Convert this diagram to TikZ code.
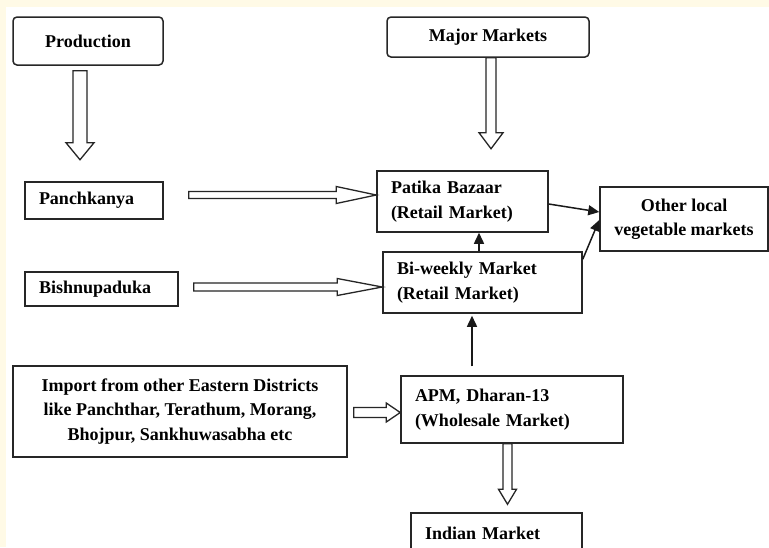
\documentclass[tikz,border=0pt]{standalone}
\usepackage{fontspec}
\setmainfont{Liberation Serif}
\usetikzlibrary{arrows.meta,calc}

\definecolor{creamback}{RGB}{255,250,230}

% hollow block arrows: start, end, shaft half width, head half width, head length
\newcommand{\blockdown}[5]{%
  \draw[hollowarrow] let \p1=#1, \p2=#2 in
    (\x1-#3,\y1) -- (\x1-#3,\y2+#5) -- (\x1-#4,\y2+#5) -- (\x1,\y2) -- (\x1+#4,\y2+#5) -- (\x1+#3,\y2+#5) -- (\x1+#3,\y1) -- cycle;}
\newcommand{\blockright}[5]{%
  \draw[hollowarrow] let \p1=#1, \p2=#2 in
    (\x1,\y1+#3) -- (\x2-#5,\y1+#3) -- (\x2-#5,\y1+#4) -- (\x2,\y1) -- (\x2-#5,\y1-#4) -- (\x2-#5,\y1-#3) -- (\x1,\y1-#3) -- cycle;}

\tikzset{
  box/.style={draw=black!85, line width=1.5pt, fill=white, font=\bfseries\fontsize{18}{24.5}\selectfont, inner ysep=2pt},
  rbox/.style={box, rounded corners=4pt, align=center},
  lbox/.style={box, align=left, inner xsep=14pt},
  cbox/.style={box, align=center},
  hollowarrow/.style={draw=black!85, line width=1.3pt, fill=white},
  thinarrow/.style={draw=black!90, line width=1.5pt, -{Triangle[length=11pt,width=10pt]}}
}

\begin{document}
\begin{tikzpicture}[x=1pt,y=1pt]
\useasboundingbox (0,0) rectangle (769,-547);
\clip (0,0) rectangle (769,-547);
\fill[creamback] (0,0) rectangle (769,-547);
\fill[white] (6,-7) rectangle (769,-547);

% sources
\node[rbox, minimum width=150pt, minimum height=48pt] (prod) at (88,-41) {Production};
\node[rbox, minimum width=202pt, minimum height=40pt] (major) at (488,-37) {Major Markets};
\node[lbox, text width=110pt, minimum height=37pt] (pank) at (94,-200.5) {Panchkanya};
\node[lbox, text width=125pt, minimum height=34pt] (bishnu) at (101.5,-289) {Bishnupaduka};
\node[cbox, minimum width=334pt, minimum height=91pt] (import) at (180,-411.5)
  {Import from other Eastern Districts\\like Panchthar, Terathum, Morang,\\Bhojpur, Sankhuwasabha etc};

% markets
\node[lbox, text width=143pt, minimum height=61pt] (patika) at (462.5,-201.5) {Patika Bazaar\\(Retail Market)};
\node[lbox, text width=171pt, minimum height=61pt] (biw) at (482.5,-282.5) {Bi-weekly Market\\(Retail Market)};
\node[cbox, minimum width=168pt, minimum height=64pt] (other) at (684,-219) {Other local\\vegetable markets};
\node[lbox, text width=194pt, minimum height=67pt] (apm) at (512,-409.5) {APM, Dharan-13\\(Wholesale Market)};
\node[lbox, text width=143pt, minimum height=41pt] (indian) at (496.5,-533.5) {Indian Market};

% free ends of the block arrows
\coordinate (prodtip) at ($(prod.south)+(-8,-94)$);
\coordinate (majortip) at ($(major.south)+(3,-91)$);
\coordinate (indiantip) at ($(indian.north)+(11,8)$);

\blockdown{($(prod.south)+(-8,-5)$)}{(prodtip)}{7}{14}{17}
\blockdown{($(major.south)+(3,0)$)}{(majortip)}{5}{12}{16}
\blockdown{($(apm.south)+(-4.5,0)$)}{(indiantip)}{4.5}{9}{15}
\blockright{($(pank.east)+(25,5.5)$)}{(patika.west)}{3.5}{8.5}{40}
\blockright{($(bishnu.east)+(15,2)$)}{(biw.west)}{4}{8.5}{45}
\blockright{($(import.east)+(6,-1)$)}{(apm.west)}{5}{9.5}{14}

% thin arrows
\coordinate (bwup) at ($(biw.north)+(-3.5,0)$);
\draw[thinarrow] (bwup) -- (bwup |- patika.south);
\coordinate (apmup) at ($(apm.north)+(-40,9)$);
\draw[thinarrow] (apmup) -- ($(apmup |- biw.south)+(0,-2)$);
\draw[thinarrow] ($(patika.east)+(0,-2.5)$) -- ($(other.west)+(0,7)$);
\draw[thinarrow] ($(biw.north east)+(0,-8)$) -- ($(other.west)+(0,-1)$);
\end{tikzpicture}
\end{document}
